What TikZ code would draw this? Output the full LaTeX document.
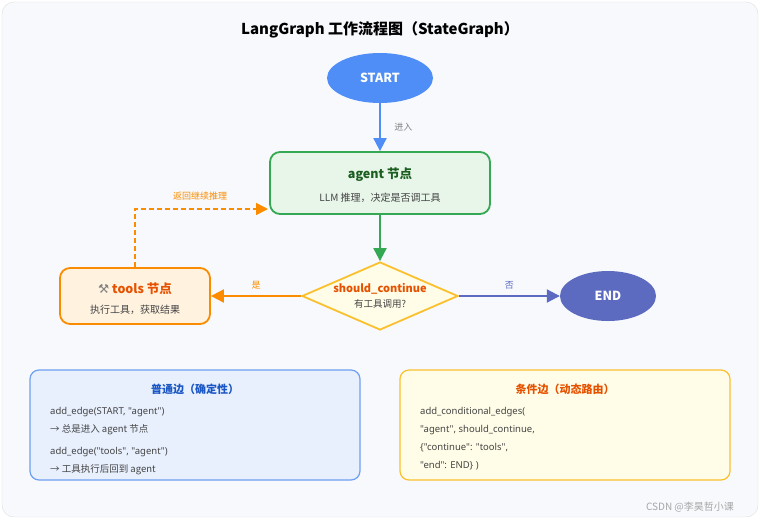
\documentclass[tikz,border=0pt]{standalone}
\usepackage{fontspec}
\setmainfont{Noto Sans CJK SC}
\newfontfamily\symf{DejaVu Sans}
\newfontfamily\latf{Noto Sans}
\usetikzlibrary{shapes.geometric,arrows.meta}
\definecolor{bg}{HTML}{F7F9FC}
\definecolor{startc}{HTML}{4F8EF7}
\definecolor{grn}{HTML}{34A853}
\definecolor{grnf}{HTML}{E8F5E9}
\definecolor{grnt}{HTML}{1B5E20}
\definecolor{org}{HTML}{FB8C00}
\definecolor{orgf}{HTML}{FFF3E0}
\definecolor{orgt}{HTML}{E65100}
\definecolor{yel}{HTML}{FBC02D}
\definecolor{yelf}{HTML}{FFFDE7}
\definecolor{endc}{HTML}{5C6BC0}
\definecolor{bluf}{HTML}{E8F0FE}
\definecolor{blub}{HTML}{6FA0F0}
\definecolor{blut}{HTML}{1A56C4}
\definecolor{txt}{HTML}{444444}
\begin{document}
\begin{tikzpicture}[x=1pt,y=-1pt,
  box/.style={draw,line width=1.8pt,rounded corners=10pt,minimum width=#1},
  note/.style={anchor=west,font=\fontsize{9.5}{11}\selectfont,text=txt,inner sep=0},
  arr/.style={line width=2pt,-{Triangle[length=13pt,width=13pt]}},
  lab/.style={font=\fontsize{9}{10}\selectfont}]
\useasboundingbox (0,0) rectangle (760,520);
\fill[white] (0,0) rectangle (760,520);
\draw[gray!25,rounded corners=12pt,fill=bg] (2,2) rectangle (758,517);
\node (title) at (380,30) {\fontsize{15}{18}\selectfont\bfseries LangGraph 工作流程图（StateGraph）};
\node[ellipse,fill=startc,minimum width=106pt,minimum height=50pt,text=white,font=\bfseries\fontsize{12.5}{15}\selectfont] (start) at (380,78) {START};
\node[box=220pt,draw=grn,fill=grnf,minimum height=62pt] (agent) at (380,183) {};
\node[text=grnt,font=\bfseries\fontsize{12.5}{15}\selectfont] (at) at (380,175) {agent 节点};
\node[text=txt,font=\fontsize{10}{12}\selectfont] (as) at (380,198) {LLM 推理，决定是否调工具};
\node[diamond,aspect=2.3,draw=yel,line width=1.8pt,fill=yelf,minimum width=156pt,minimum height=68pt,inner sep=0] (dec) at (380,296) {};
\node[text=orgt,font=\bfseries\fontsize{11}{13}\selectfont] (dt) at (380,289) {should\_continue};
\node[text=txt,font=\fontsize{9.5}{11}\selectfont] (ds) at (380,304) {有工具调用?};
\node[box=150pt,draw=org,fill=orgf,minimum height=56pt] (tools) at (135,296) {};
\node[text=orgt,font=\bfseries\fontsize{12.5}{15}\selectfont] (tt) at (135,289) {{\symf\color{gray}⚒} tools 节点};
\node[text=txt,font=\fontsize{10}{12}\selectfont] (ts) at (135,310) {执行工具，获取结果};
\node[ellipse,fill=endc,minimum width=96pt,minimum height=50pt,text=white,font=\bfseries\fontsize{12.5}{15}\selectfont] (end) at (608,296) {END};
\draw[arr,startc] (start) -- (agent) node[midway,right=10pt,lab,text=gray] {进入};
\draw[arr,grn] (agent) -- (dec);
\draw[arr,org] (dec) -- (tools) node[midway,above=2pt,lab,text=org] {是};
\draw[arr,endc] (dec) -- (end) node[midway,above=2pt,lab,text=endc] {否};
\coordinate (c1) at (135,209);
\coordinate (c2) at (268,209);
\draw[line width=1.6pt,org,dash pattern=on 5pt off 3pt,-{Triangle[length=12pt,width=12pt]}] (tools.north) -- (c1) -- (c2);
\node[lab,text=org] (back) at (200,196) {返回继续推理};
\node[draw=blub,fill=bluf,line width=1.2pt,rounded corners=9pt,minimum width=330pt,minimum height=110pt] (lb) at (195,425) {};
\node[text=blut,font=\bfseries\fontsize{11}{13}\selectfont] (lt) at (195,389) {普通边（确定性）};
\node[note] (l1) at (50,412) {\latf add\_edge(START, "agent")};
\node[note] (l2) at (50,430) {→ 总是进入 agent 节点};
\node[note] (l3) at (50,452) {\latf add\_edge("tools", "agent")};
\node[note] (l4) at (50,470) {→ 工具执行后回到 agent};
\node[draw=yel,fill=yelf,line width=1.2pt,rounded corners=9pt,minimum width=330pt,minimum height=110pt] (rb) at (565,425) {};
\node[text=orgt,font=\bfseries\fontsize{11}{13}\selectfont] (rt) at (565,389) {条件边（动态路由）};
\node[note] (r1) at (420,412) {\latf add\_conditional\_edges(};
\node[note] (r2) at (420,430) {\latf "agent", should\_continue,};
\node[note] (r3) at (420,448) {\latf \{"continue": "tools",};
\node[note] (r4) at (420,466) {\latf "end": END\} )};
\node[text=gray!70,font=\fontsize{10}{12}\selectfont] (wm) at (690,507) {CSDN @李昊哲小课};
\end{tikzpicture}
\end{document}
